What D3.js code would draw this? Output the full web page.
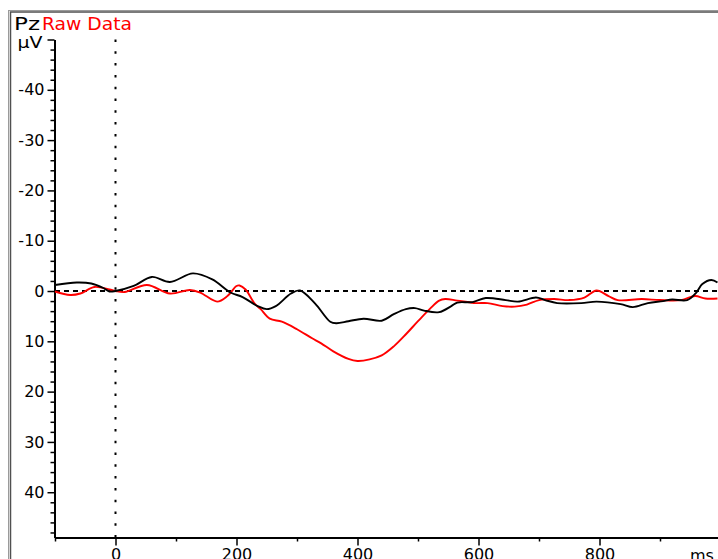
<!DOCTYPE html>
<html>
<head>
<meta charset="utf-8">
<script src="https://cdn.jsdelivr.net/npm/d3@7"></script>
<style>
  html, body { margin: 0; padding: 0; background: #fff; }
  svg { display: block; }
  text { font-family: "DejaVu Sans", Verdana, sans-serif; }
</style>
</head>
<body>
<svg id="chart" width="718" height="559"></svg>
<script>
// Pz channel, averaged ERP (black) and raw data overlay (red); µV with negative up
const channelName = "Pz";
const overlayName = "Raw Data";

const blackTimes  = [-100, -64, -40, -20, -10, 0, 30, 60, 90, 128, 160, 190, 210, 235, 250, 265, 290, 305, 330, 355, 365, 385, 410, 440, 460, 480, 495, 510, 535, 555, 565, 590, 612, 645, 665, 695, 710, 730, 770, 795, 835, 855, 880, 905, 920, 945, 960, 970, 985, 995];
const blackValues = [-1.2, -1.7, -1.5, -0.6, 0.1, 0.0, -1.0, -2.8, -1.8, -3.5, -2.3, 0.3, 1.2, 3.0, 3.6, 3.0, 0.5, -0.1, 2.5, 6.1, 6.4, 6.0, 5.5, 5.9, 4.6, 3.6, 3.4, 3.9, 4.2, 3.0, 2.3, 2.2, 1.4, 1.8, 2.1, 1.3, 1.8, 2.4, 2.4, 2.1, 2.6, 3.2, 2.4, 2.0, 1.7, 1.8, 0.3, -1.4, -2.2, -1.7];

const redTimes  = [-100, -75, -58, -35, -10, 0, 15, 52, 90, 123, 140, 168, 185, 200, 205, 215, 230, 240, 255, 275, 300, 325, 340, 360, 385, 400, 420, 440, 460, 480, 500, 520, 535, 545, 565, 595, 615, 640, 660, 680, 700, 725, 750, 775, 795, 815, 830, 870, 900, 935, 958, 975, 995];
const redValues = [0.1, 0.8, 0.5, -0.8, -0.3, 0.0, 0.2, -1.2, 0.5, -0.2, 0.3, 2.1, 1.0, -1.0, -1.1, -0.3, 2.5, 3.6, 5.5, 6.1, 7.6, 9.4, 10.4, 12.0, 13.5, 13.9, 13.6, 12.8, 11.0, 8.6, 6.0, 3.5, 1.9, 1.6, 1.9, 2.4, 2.4, 3.0, 3.1, 2.7, 1.8, 1.6, 1.8, 1.3, -0.1, 1.0, 1.8, 1.6, 1.8, 1.8, 1.0, 1.5, 1.5];

const yMajorTicks = [-50, -40, -30, -20, -10, 0, 10, 20, 30, 40];
const xMajorTicks = [0, 200, 400, 600, 800];
const yUnit = "µV";
const xUnit = "ms";

const svg = d3.select("#chart");

// window frame
svg.append("rect").attr("x", 8.5).attr("y", 10.5).attr("width", 720).attr("height", 560)
  .attr("fill", "none").attr("stroke", "#9a9a9a").attr("stroke-width", 1);
svg.append("rect").attr("x", 10.5).attr("y", 12).attr("width", 720).attr("height", 560)
  .attr("fill", "none").attr("stroke", "#505050").attr("stroke-width", 1.5);

const x = d3.scaleLinear().domain([-100, 1000]).range([55, 720.5]);
const y = d3.scaleLinear().domain([-50, 49]).range([39.5, 537.5]);

// zero reference lines
svg.append("line")
  .attr("x1", x(-100)).attr("x2", 720).attr("y1", y(0)).attr("y2", y(0))
  .attr("stroke", "#000").attr("stroke-width", 2).attr("stroke-dasharray", "5,4");
svg.append("line")
  .attr("x1", x(0)).attr("x2", x(0)).attr("y1", y(-50)).attr("y2", y(49))
  .attr("stroke", "#000").attr("stroke-width", 2).attr("stroke-dasharray", "2.5,9.3");

// y axis: minor ticks every 2 µV, labelled ticks every 10
const yMinor = d3.range(-48, 49, 2).filter(v => v % 10 !== 0);
svg.append("g").attr("transform", "translate(54.5,0)")
  .call(d3.axisLeft(y).tickValues(yMinor).tickSize(4).tickFormat(""))
  .call(g => g.select(".domain").remove())
  .call(g => g.selectAll("line").attr("stroke-width", 1.5));
svg.append("g").attr("transform", "translate(54.5,0)")
  .call(d3.axisLeft(y).tickValues(yMajorTicks).tickSizeInner(7).tickSizeOuter(0).tickPadding(3)
    .tickFormat(d => d === -50 ? yUnit : String(d)))
  .call(g => g.select(".domain").attr("stroke-width", 2))
  .call(g => g.selectAll("line").attr("stroke-width", 1.5))
  .call(g => g.selectAll("text").attr("font-size", 16).attr("fill", "#000")
    .attr("font-family", "'DejaVu Sans', Verdana, sans-serif"))
  .call(g => g.selectAll(".tick").filter(d => d === -50).select("text")
    .attr("dy", "0.5em").attr("x", -12).attr("textLength", 25).attr("lengthAdjust", "spacingAndGlyphs"));

// x axis: minor ticks every 100 ms
const xMinor = d3.range(-100, 1001, 100).filter(v => v % 200 !== 0);
svg.append("g").attr("transform", `translate(0,${y(49)})`)
  .call(d3.axisBottom(x).tickValues(xMinor).tickSize(4).tickFormat(""))
  .call(g => g.select(".domain").remove())
  .call(g => g.selectAll("line").attr("stroke-width", 1.5));
svg.append("g").attr("transform", `translate(0,${y(49)})`)
  .call(d3.axisBottom(x).tickValues(xMajorTicks).tickSizeInner(8).tickSizeOuter(0).tickPadding(3)
    .tickFormat(d => String(d)))
  .call(g => g.select(".domain").attr("stroke-width", 2))
  .call(g => g.selectAll("line").attr("stroke-width", 1.5))
  .call(g => g.selectAll("text").attr("font-size", 16).attr("fill", "#000")
    .attr("font-family", "'DejaVu Sans', Verdana, sans-serif"));

svg.append("text").attr("x", 690).attr("y", 561).attr("font-size", 16).attr("fill", "#000").text(xUnit);

// traces
const line = d3.line().x(d => x(d[0])).y(d => y(d[1])).curve(d3.curveCatmullRom.alpha(0.5));
svg.append("path").datum(d3.zip(redTimes, redValues))
  .attr("d", line).attr("fill", "none").attr("stroke", "#ff0000").attr("stroke-width", 1.9);
svg.append("path").datum(d3.zip(blackTimes, blackValues))
  .attr("d", line).attr("fill", "none").attr("stroke", "#000").attr("stroke-width", 1.9);

// title: channel name followed by the overlay name
svg.append("text").attr("x", 14).attr("y", 30).attr("font-size", 17).attr("fill", "#000")
  .attr("textLength", 26).attr("lengthAdjust", "spacingAndGlyphs").text(channelName);
svg.append("text").attr("x", 42).attr("y", 30).attr("font-size", 17).attr("fill", "#ff0000")
  .attr("textLength", 90).attr("lengthAdjust", "spacingAndGlyphs").text(overlayName);
</script>
</body>
</html>
